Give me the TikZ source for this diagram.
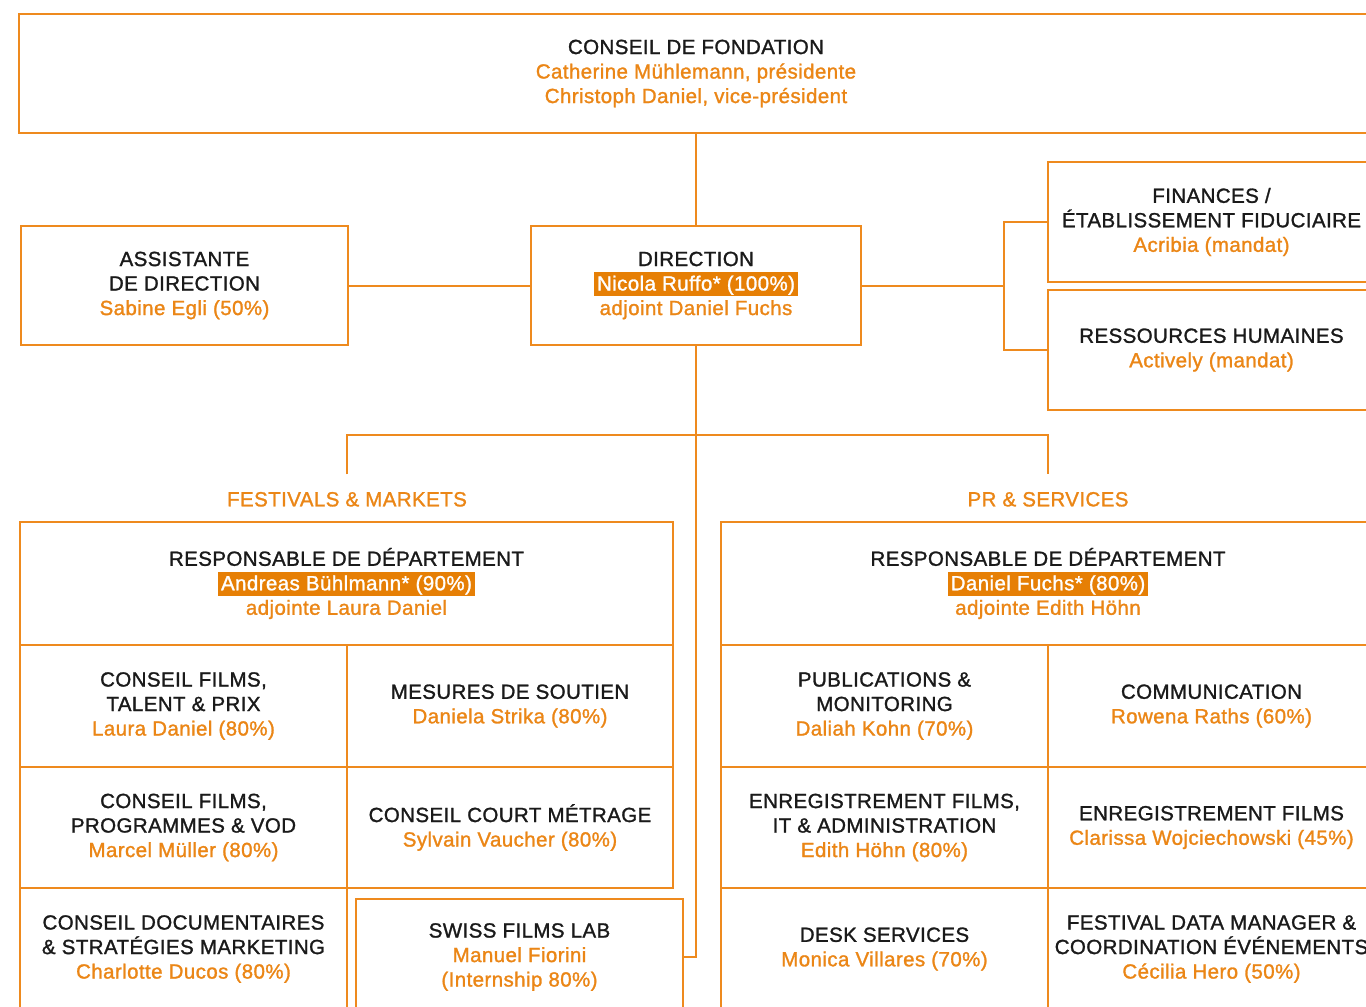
\documentclass[tikz,border=0pt]{standalone}
\usepackage{fontspec}
\setmainfont{Liberation Sans}[LetterSpace=2, FakeBold=1.3]
\definecolor{sfline}{HTML}{EE8A1E}
\definecolor{sftext}{HTML}{EB8616}
\definecolor{sfhl}{HTML}{E67F05}
\definecolor{sfdark}{HTML}{1A1A1A}
\newcommand\sfname[1]{\textcolor{sftext}{#1}}
\newcommand\sfhlname[1]{{\setlength{\fboxsep}{0pt}\colorbox{sfhl}{\hspace{3pt}\rule[-5.5pt]{0pt}{24pt}\textcolor{white}{#1}\hspace{3pt}}}}
\newcommand\sfstrut{\rule[-1pt]{0pt}{21pt}}
\begin{document}
\begin{tikzpicture}[x=1pt,y=-1pt,
  box/.style={draw=sfline, line width=2pt, inner sep=0pt, align=center, text=sfdark,
    font=\fontsize{20.5}{24.5}\selectfont,
    execute at begin node=\sfstrut, execute at end node=\sfstrut},
  grp/.style={inner sep=0pt, text=sftext, font=\fontsize{20.5}{24.5}\selectfont,
    text height=14.7pt, text depth=0pt},
  conn/.style={draw=sfline, line width=2pt}]
\useasboundingbox (0,0) rectangle (1366,1007);
\clip (0,0) rectangle (1366,1007);
\fill[white] (0,0) rectangle (1366,1007);

% top level
\node[box, minimum width=1354, minimum height=119] (cf) at (696,73.5)
  {CONSEIL DE FONDATION\\\sfname{Catherine Mühlemann, présidente}\\\sfname{Christoph Daniel, vice-président}};
\node[box, minimum width=330, minimum height=119] (dir) at (696,285.5)
  {DIRECTION\\\sfhlname{Nicola Ruffo* (100\%)}\\\sfname{adjoint Daniel Fuchs}};
\node[box, minimum width=327, minimum height=119] (as) at (184.5,285.5)
  {ASSISTANTE\\DE DIRECTION\\\sfname{Sabine Egli (50\%)}};
\node[box, minimum width=327, minimum height=120] (fin) at (1211.5,222)
  {FINANCES /\\ÉTABLISSEMENT FIDUCIAIRE\\\sfname{Acribia (mandat)}};
\node[box, minimum width=327, minimum height=120] (rh) at (1211.5,350)
  {RESSOURCES HUMAINES\\\sfname{Actively (mandat)}};

% group labels
\node[grp] (fm) at (347,499) {FESTIVALS \& MARKETS};
\node[grp] (pr) at (1048,499) {PR \& SERVICES};

% Festivals & Markets
\node[box, minimum width=653, minimum height=123] (fmh) at (346.5,583.5)
  {RESPONSABLE DE DÉPARTEMENT\\\sfhlname{Andreas Bühlmann* (90\%)}\\\sfname{adjointe Laura Daniel}};
\node[box, minimum width=327, minimum height=122] (ftp) at (183.5,706)
  {CONSEIL FILMS,\\TALENT \& PRIX\\\sfname{Laura Daniel (80\%)}};
\node[box, minimum width=326, minimum height=122] (mds) at (510,706)
  {MESURES DE SOUTIEN\\\sfname{Daniela Strika (80\%)}};
\node[box, minimum width=327, minimum height=121] (fpv) at (183.5,827.5)
  {CONSEIL FILMS,\\PROGRAMMES \& VOD\\\sfname{Marcel Müller (80\%)}};
\node[box, minimum width=326, minimum height=121] (ccm) at (510,827.5)
  {CONSEIL COURT MÉTRAGE\\\sfname{Sylvain Vaucher (80\%)}};
\node[box, minimum width=327, minimum height=122] (cdm) at (183.5,949)
  {CONSEIL DOCUMENTAIRES\\\& STRATÉGIES MARKETING\\\sfname{Charlotte Ducos (80\%)}};
\node[box, minimum width=327, minimum height=116] (sfl) at (519.5,957)
  {SWISS FILMS LAB\\\sfname{Manuel Fiorini}\\\sfname{(Internship 80\%)}};

% PR & Services
\node[box, minimum width=654, minimum height=123] (prh) at (1048,583.5)
  {RESPONSABLE DE DÉPARTEMENT\\\sfhlname{Daniel Fuchs* (80\%)}\\\sfname{adjointe Edith Höhn}};
\node[box, minimum width=327, minimum height=122] (pub) at (884.5,706)
  {PUBLICATIONS \&\\MONITORING\\\sfname{Daliah Kohn (70\%)}};
\node[box, minimum width=327, minimum height=122] (com) at (1211.5,706)
  {COMMUNICATION\\\sfname{Rowena Raths (60\%)}};
\node[box, minimum width=327, minimum height=121] (efi) at (884.5,827.5)
  {ENREGISTREMENT FILMS,\\IT \& ADMINISTRATION\\\sfname{Edith Höhn (80\%)}};
\node[box, minimum width=327, minimum height=121] (efc) at (1211.5,827.5)
  {ENREGISTREMENT FILMS\\\sfname{Clarissa Wojciechowski (45\%)}};
\node[box, minimum width=327, minimum height=122] (dsk) at (884.5,949)
  {DESK SERVICES\\\sfname{Monica Villares (70\%)}};
\node[box, minimum width=327, minimum height=122] (fdm) at (1211.5,949)
  {FESTIVAL DATA MANAGER \&\\COORDINATION ÉVÉNEMENTS\\\sfname{Cécilia Hero (50\%)}};

% connectors
\coordinate (rj) at (1004,285.5);
\coordinate (bar) at (696,435);
\draw[conn] (cf.south) -- (dir.north);
\draw[conn] (as.east) -- (dir.west);
\draw[conn] (dir.east) -- (rj);
\draw[conn] (fin.west) -- (fin.west -| rj) -- (rh.west -| rj) -- (rh.west);
\draw[conn] (dir.south) |- (sfl.east);
\draw[conn] ([yshift=17pt]fm.north) -- (fm.north |- bar) -- (pr.north |- bar) -- ([yshift=17pt]pr.north);
\end{tikzpicture}
\end{document}
